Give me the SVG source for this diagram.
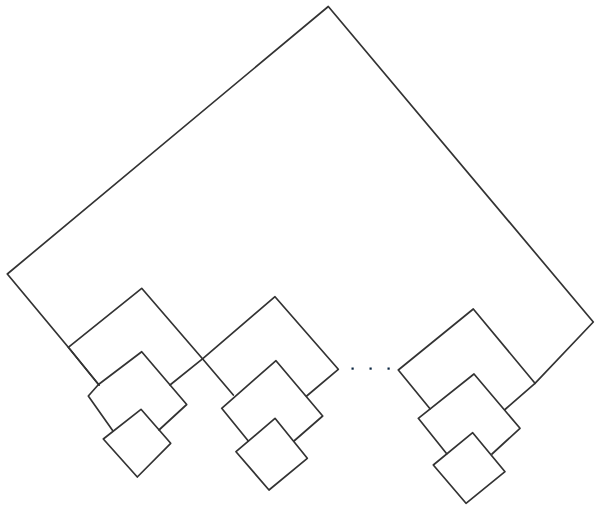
<svg xmlns="http://www.w3.org/2000/svg" width="596" height="507" viewBox="0 0 596 507">
<style>
.sq{fill:none;stroke:#333333;stroke-width:1.7;stroke-linejoin:round;stroke-linecap:round}
.dot{fill:#0b2540}
</style>
<rect width="596" height="507" fill="#ffffff"/>
<g id="root"><path class="sq" d="M99,385 L68.3,347.3 L7.3,274 L328.3,6.5 L593.3,322 L535,383.3"/></g>
<g id="a1"><path class="sq" d="M99,385 L68.3,347.3 L141.7,288.3 L202.5,358.8 L170,385"/></g>
<g id="a2"><path class="sq" d="M113,431 L88.3,396 L98.5,384.5 L141.7,351.7 L186.7,404.5 L159,430"/></g>
<g id="a3"><path class="sq" d="M141,409.3 L103.3,439 L137.3,477 L170.7,443.3 Z"/></g>
<g id="b1"><path class="sq" d="M233.3,395 L202.5,358.8 L275,296.7 L338.3,369.3 L306.7,396"/></g>
<g id="b2"><path class="sq" d="M248.3,441 L221.7,408.3 L276,360.7 L322.7,416 L294,441"/></g>
<g id="b3"><path class="sq" d="M275,418.3 L236,451.7 L269,490 L307.3,458.3 Z"/></g>
<g id="c1"><path class="sq" d="M430,408.8 L398.3,370 L473.3,309 L535,383.3 L505,409.5"/></g>
<g id="c2"><path class="sq" d="M446.7,453.8 L418.3,418.3 L474,374 L520,428.3 L492,454"/></g>
<g id="c3"><path class="sq" d="M472.7,432.7 L433.3,465 L466,503.3 L505,471.7 Z"/></g>
<g id="ellipsis">
<rect class="dot" x="351.5" y="367.5" width="2.2" height="2.2"/>
<rect class="dot" x="369.5" y="367.5" width="2.2" height="2.2"/>
<rect class="dot" x="387.5" y="367.5" width="2.2" height="2.2"/>
</g>
</svg>
